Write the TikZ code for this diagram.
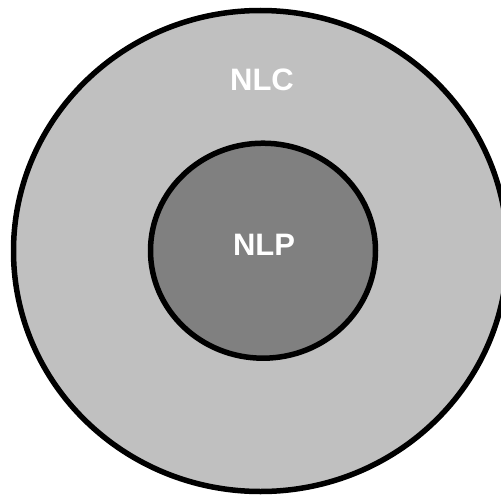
\documentclass[tikz,border=0pt]{standalone}
\usepackage{fontspec}
\setmainfont{Liberation Sans}
\usetikzlibrary{shapes.geometric}
\definecolor{outerfill}{HTML}{C0C0C0}
\definecolor{innerfill}{HTML}{808080}
\begin{document}
\begin{tikzpicture}[x=1pt,y=-1pt,
  ring/.style={ellipse, draw=black, line width=5.5pt, inner sep=0pt},
  lbl/.style={text=white, font=\fontsize{31}{31}\selectfont\bfseries, inner sep=0pt}]
\path[use as bounding box, fill=white] (0,0) rectangle (501,495);
\node[ring, fill=outerfill, minimum width=494pt, minimum height=481pt] (nlc) at (260.5,251) {};
\node[ring, fill=innerfill, minimum width=225pt, minimum height=215pt] (nlp) at (263,250.7) {};
\node[lbl] (nlctext) at (262,79.5) {NLC};
\node[lbl] (nlptext) at (264,244.7) {NLP};
\end{tikzpicture}
\end{document}
